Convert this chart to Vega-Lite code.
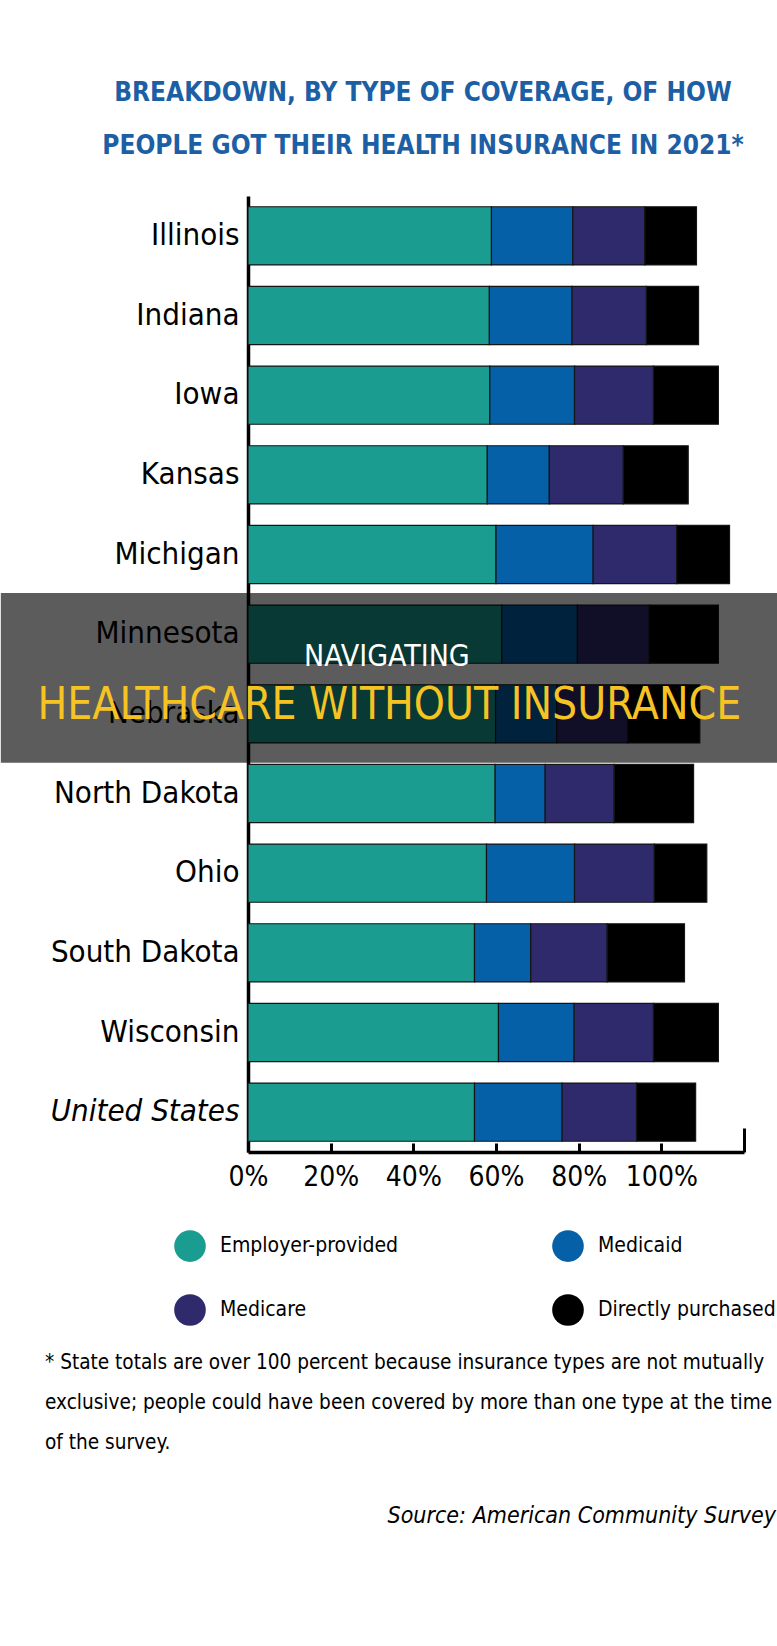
{
  "$schema": "https://vega.github.io/schema/vega-lite/v6.json",
  "background": "white",
  "padding": {"left": 0, "top": 80, "right": 0, "bottom": 0},
  "config": {"view": {"stroke": null}, "font": "DejaVu Sans Condensed"},
  "spacing": 20,
  "vconcat": [
    {
      "width": 496,
      "height": 956,
      "title": {
        "text": ["BREAKDOWN, BY TYPE OF COVERAGE, OF HOW", "PEOPLE GOT THEIR HEALTH INSURANCE IN 2021*"],
        "font": "DejaVu Sans Condensed",
        "fontWeight": "bold",
        "fontSize": 26,
        "lineHeight": 53,
        "color": "#1d5fa5",
        "anchor": "middle",
        "dx": -73,
        "offset": 37
      },
      "layer": [
        {
          "data": {"values": [
            {"state": "Illinois", "type": "Employer-provided", "k": 1, "share": 58.9},
            {"state": "Illinois", "type": "Medicaid", "k": 2, "share": 19.7},
            {"state": "Illinois", "type": "Medicare", "k": 3, "share": 17.4},
            {"state": "Illinois", "type": "Directly purchased", "k": 4, "share": 12.5},
            {"state": "Indiana", "type": "Employer-provided", "k": 1, "share": 58.4},
            {"state": "Indiana", "type": "Medicaid", "k": 2, "share": 20.0},
            {"state": "Indiana", "type": "Medicare", "k": 3, "share": 18.0},
            {"state": "Indiana", "type": "Directly purchased", "k": 4, "share": 12.6},
            {"state": "Iowa", "type": "Employer-provided", "k": 1, "share": 58.5},
            {"state": "Iowa", "type": "Medicaid", "k": 2, "share": 20.5},
            {"state": "Iowa", "type": "Medicare", "k": 3, "share": 19.1},
            {"state": "Iowa", "type": "Directly purchased", "k": 4, "share": 15.7},
            {"state": "Kansas", "type": "Employer-provided", "k": 1, "share": 57.9},
            {"state": "Kansas", "type": "Medicaid", "k": 2, "share": 15.0},
            {"state": "Kansas", "type": "Medicare", "k": 3, "share": 17.9},
            {"state": "Kansas", "type": "Directly purchased", "k": 4, "share": 15.7},
            {"state": "Michigan", "type": "Employer-provided", "k": 1, "share": 60.0},
            {"state": "Michigan", "type": "Medicaid", "k": 2, "share": 23.5},
            {"state": "Michigan", "type": "Medicare", "k": 3, "share": 20.2},
            {"state": "Michigan", "type": "Directly purchased", "k": 4, "share": 12.8},
            {"state": "Minnesota", "type": "Employer-provided", "k": 1, "share": 61.4},
            {"state": "Minnesota", "type": "Medicaid", "k": 2, "share": 18.3},
            {"state": "Minnesota", "type": "Medicare", "k": 3, "share": 17.4},
            {"state": "Minnesota", "type": "Directly purchased", "k": 4, "share": 16.7},
            {"state": "Nebraska", "type": "Employer-provided", "k": 1, "share": 59.9},
            {"state": "Nebraska", "type": "Medicaid", "k": 2, "share": 14.8},
            {"state": "Nebraska", "type": "Medicare", "k": 3, "share": 17.2},
            {"state": "Nebraska", "type": "Directly purchased", "k": 4, "share": 17.4},
            {"state": "North Dakota", "type": "Employer-provided", "k": 1, "share": 59.8},
            {"state": "North Dakota", "type": "Medicaid", "k": 2, "share": 12.1},
            {"state": "North Dakota", "type": "Medicare", "k": 3, "share": 16.7},
            {"state": "North Dakota", "type": "Directly purchased", "k": 4, "share": 19.2},
            {"state": "Ohio", "type": "Employer-provided", "k": 1, "share": 57.7},
            {"state": "Ohio", "type": "Medicaid", "k": 2, "share": 21.3},
            {"state": "Ohio", "type": "Medicare", "k": 3, "share": 19.3},
            {"state": "Ohio", "type": "Directly purchased", "k": 4, "share": 12.7},
            {"state": "South Dakota", "type": "Employer-provided", "k": 1, "share": 54.8},
            {"state": "South Dakota", "type": "Medicaid", "k": 2, "share": 13.6},
            {"state": "South Dakota", "type": "Medicare", "k": 3, "share": 18.5},
            {"state": "South Dakota", "type": "Directly purchased", "k": 4, "share": 18.7},
            {"state": "Wisconsin", "type": "Employer-provided", "k": 1, "share": 60.6},
            {"state": "Wisconsin", "type": "Medicaid", "k": 2, "share": 18.3},
            {"state": "Wisconsin", "type": "Medicare", "k": 3, "share": 19.2},
            {"state": "Wisconsin", "type": "Directly purchased", "k": 4, "share": 15.7},
            {"state": "United States", "type": "Employer-provided", "k": 1, "share": 54.8},
            {"state": "United States", "type": "Medicaid", "k": 2, "share": 21.2},
            {"state": "United States", "type": "Medicare", "k": 3, "share": 18.0},
            {"state": "United States", "type": "Directly purchased", "k": 4, "share": 14.3}
          ]},
          "mark": {"type": "bar", "stroke": "#151515", "strokeWidth": 1.2},
          "encoding": {
            "y": {
              "field": "state", "type": "nominal",
              "scale": {"domain": ["Illinois", "Indiana", "Iowa", "Kansas", "Michigan", "Minnesota", "Nebraska", "North Dakota", "Ohio", "South Dakota", "Wisconsin", "United States"], "paddingInner": 0.27, "paddingOuter": 0.135},
              "axis": {
                "title": null, "ticks": false, "domainColor": "black", "domainWidth": 3.5,
                "labelFont": "DejaVu Sans Condensed", "labelFontSize": 31, "labelColor": "black", "labelPadding": 9, "labelLimit": 300,
                "labelFontStyle": {"condition": {"test": "datum.value == 'United States'", "value": "italic"}, "value": "normal"}
              }
            },
            "x": {
              "field": "share", "type": "quantitative", "stack": "zero",
              "scale": {"domain": [0, 120], "nice": false},
              "axis": {
                "title": null, "grid": false, "values": [0, 20, 40, 60, 80, 100, 120],
                "labelExpr": "datum.value == 120 ? '' : datum.value + '%'",
                "domainColor": "black", "domainWidth": 3.5,
                "tickColor": "black", "tickWidth": 3,
                "tickSize": {"condition": {"test": "datum.value == 120", "value": -24}, "value": -9},
                "labelFont": "DejaVu Sans Condensed", "labelFontSize": 28, "labelColor": "black", "labelPadding": 20, "labelFlush": false
              }
            },
            "color": {
              "field": "type", "type": "nominal",
              "scale": {"domain": ["Employer-provided", "Medicaid", "Medicare", "Directly purchased"], "range": ["#1a9d90", "#0560a8", "#2f2a6c", "#000000"]},
              "legend": {
                "title": null, "orient": "none", "direction": "horizontal", "legendX": -74, "legendY": 1034, "columns": 2,
                "columnPadding": 153, "rowPadding": 32, "symbolType": "circle", "symbolSize": 1000,
                "symbolStrokeWidth": 0, "symbolOpacity": 1, "labelFont": "DejaVu Sans Condensed", "labelFontSize": 21,
                "labelColor": "black", "labelOffset": 14, "labelLimit": 400, "padding": 0
              }
            },
            "order": {"field": "k", "type": "quantitative"}
          }
        },
        {
          "data": {"values": [{"banner": "overlay"}]},
          "mark": {"type": "rect", "color": "black", "opacity": 0.64},
          "encoding": {
            "x": {"datum": -59.8, "type": "quantitative", "title": null},
            "x2": {"datum": 128.2},
            "y": {"datum": "Minnesota", "type": "nominal", "bandPosition": -0.206, "title": null},
            "y2": {"datum": "Nebraska", "bandPosition": 1.34}
          }
        },
        {
          "data": {"values": [{"label": "NAVIGATING"}]},
          "mark": {"type": "text", "font": "DejaVu Sans Condensed", "fontSize": 30, "color": "white", "align": "center", "baseline": "middle"},
          "encoding": {
            "text": {"field": "label"},
            "x": {"datum": 33.6, "type": "quantitative", "title": null},
            "y": {"datum": "Minnesota", "type": "nominal", "bandPosition": 0.9, "title": null}
          }
        },
        {
          "data": {"values": [{"label": "HEALTHCARE WITHOUT INSURANCE"}]},
          "mark": {"type": "text", "font": "DejaVu Sans Condensed", "fontSize": 44, "color": "#f6c324", "align": "center", "baseline": "middle"},
          "encoding": {
            "text": {"field": "label"},
            "x": {"datum": 34.2, "type": "quantitative", "title": null},
            "y": {"datum": "Nebraska", "type": "nominal", "bandPosition": 0.36, "title": null}
          }
        }
      ]
    },
    {
      "width": 496,
      "height": 142,
      "data": {"values": [{"note": ""}]},
      "mark": {"type": "text", "text": ""},
      "title": {
        "text": ["* State totals are over 100 percent because insurance types are not mutually", "exclusive; people could have been covered by more than one type at the time", "of the survey."],
        "orient": "bottom", "anchor": "start", "dx": -203, "font": "DejaVu Sans Condensed", "fontSize": 20.6, "fontWeight": "normal",
        "lineHeight": 40, "color": "black", "offset": 0
      }
    },
    {
      "width": 496,
      "height": 31,
      "data": {"values": [{"note": ""}]},
      "mark": {"type": "text", "text": ""},
      "title": {
        "text": "Source: American Community Survey",
        "orient": "bottom", "anchor": "end", "dx": 32, "font": "DejaVu Sans Condensed", "fontSize": 23, "fontWeight": "normal", "fontStyle": "italic",
        "color": "black", "offset": 0
      }
    }
  ]
}
